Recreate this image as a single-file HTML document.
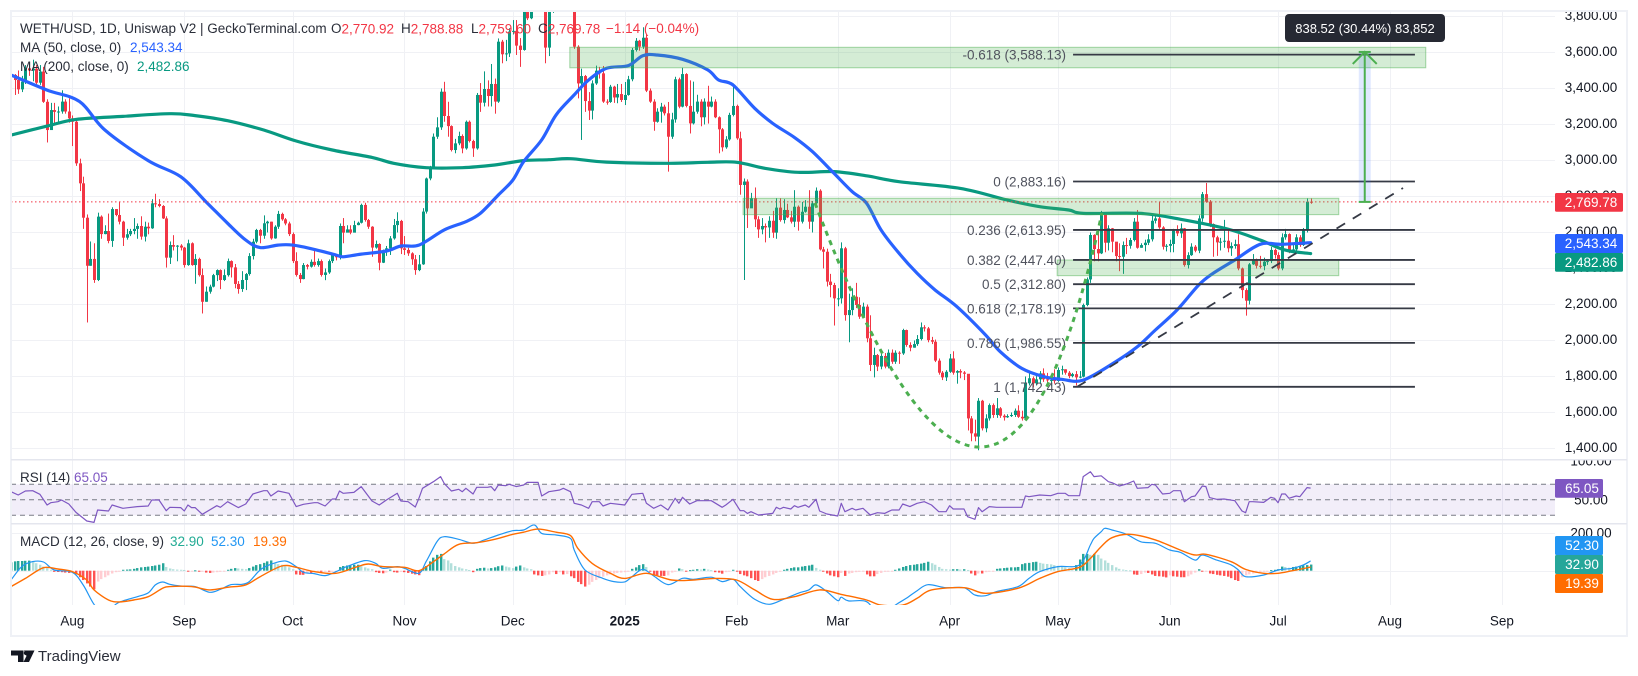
<!DOCTYPE html>
<html lang="en">
<head>
<meta charset="utf-8">
<title>WETH/USD chart</title>
<style>
html,body{margin:0;padding:0;background:#fff;width:1638px;height:676px;overflow:hidden}
svg{display:block;font-family:"Liberation Sans",sans-serif}
text{font-size:13.5px;fill:#2a2e39;dominant-baseline:central}
</style>
</head>
<body>
<svg id="chart" width="1638" height="676" viewBox="0 0 1638 676" xmlns="http://www.w3.org/2000/svg">
  <defs>
    <clipPath id="clip-main"><rect x="11" y="12" width="1544" height="447"/></clipPath>
    <clipPath id="clip-rsi"><rect x="11" y="460" width="1544" height="63"/></clipPath>
    <clipPath id="clip-macd"><rect x="11" y="524" width="1544" height="81"/></clipPath>
    <clipPath id="clip-axis-main"><rect x="1555" y="12" width="72" height="447"/></clipPath>
    <clipPath id="clip-axis-rsi"><rect x="1555" y="460" width="72" height="63"/></clipPath>
  </defs>
  <rect x="0" y="0" width="1638" height="676" fill="#ffffff"/>
  <g id="grid"></g>
  <g id="rsi-layer" clip-path="url(#clip-rsi)"></g>
  <g id="macd-layer" clip-path="url(#clip-macd)"></g>
  <g id="candles" clip-path="url(#clip-main)"></g>
  <g id="mas" clip-path="url(#clip-main)"></g>
  <g id="drawings" clip-path="url(#clip-main)"></g>
  <g id="axis-main" clip-path="url(#clip-axis-main)"></g>
  <g id="axis-rsi" clip-path="url(#clip-axis-rsi)"></g>
  <g id="axis-macd"></g>
  <g id="axis-time"></g>

  <g fill="#eff1f6">
    <rect x="10" y="10" width="1618" height="2"/>
    <rect x="10" y="10" width="2" height="627"/>
    <rect x="10" y="635" width="1618" height="2"/>
    <rect x="1626" y="10" width="2" height="627"/>
    <rect x="11" y="459" width="1616" height="1.5" fill="#e4e6ee"/>
    <rect x="11" y="523" width="1616" height="1.5" fill="#e4e6ee"/>
  </g>

  <g>
    <text x="20" y="28.5">WETH/USD, 1D, Uniswap V2 | GeckoTerminal.com</text>
    <text x="331" y="28.5">O<tspan fill="#f23645">2,770.92</tspan></text>
    <text x="401" y="28.5">H<tspan fill="#f23645">2,788.88</tspan></text>
    <text x="471" y="28.5">L<tspan fill="#f23645">2,759.60</tspan></text>
    <text x="538" y="28.5">C<tspan fill="#f23645">2,769.78</tspan></text>
    <text x="606" y="28.5" style="fill:#f23645">−1.14 (−0.04%)</text>
    <text x="20" y="47.5">MA (50, close, 0)</text>
    <text x="130" y="47.5" style="fill:#2962ff">2,543.34</text>
    <text x="20" y="66.5">MA (200, close, 0)</text>
    <text x="137" y="66.5" style="fill:#089981">2,482.86</text>
  </g>
  <g>
    <text x="20" y="477.5">RSI (14)</text>
    <text x="74" y="477.5" style="fill:#7e57c2">65.05</text>
  </g>
  <g>
    <text x="20" y="541.5">MACD (12, 26, close, 9)</text>
    <text x="170" y="541.5" style="fill:#22ab94">32.90</text>
    <text x="211" y="541.5" style="fill:#2196f3">52.30</text>
    <text x="253" y="541.5" style="fill:#ff6d00">19.39</text>
  </g>

  <g>
    <rect x="1285" y="14" width="160" height="28" rx="4" fill="#262933"/>
    <text x="1365" y="28.5" text-anchor="middle" style="fill:#ffffff;font-size:13px">838.52 (30.44%) 83,852</text>
  </g>

  <g id="axis-boxes"></g>

  <g>
    <path d="M11 650.5h12.5v11.5h-5.5v-6.5h-7z M24 650.5h10.5l-5.5 11.5h-5.5l3-6z" fill="#131722"/>
    <circle cx="26" cy="653" r="2.2" fill="#131722"/>
    <text x="38" y="656.5" style="font-size:15px;fill:#2a2e39">TradingView</text>
  </g>
</svg>

<script>
// ---- candlestick data (one entry per day, open = previous close) ----
var firstOpen = 3480;
var closes = [
3475,3447,3395,3438,3512,3500,3510,3432,3494,3326,
3169,3280,3270,3272,3327,3272,3234,3215,2984,2873,
2682,2415,2453,2336,2688,2591,2608,2553,2730,2697,
2660,2571,2590,2608,2620,2636,2577,2632,2623,2762,
2758,2747,2678,2460,2530,2521,2527,2516,2419,2540,
2419,2453,2363,2215,2271,2299,2363,2391,2336,2363,
2441,2406,2314,2286,2336,2369,2469,2549,2614,2582,
2651,2660,2567,2632,2703,2673,2650,2591,2441,2364,
2341,2419,2410,2437,2419,2441,2364,2378,2441,2475,
2462,2636,2599,2617,2599,2641,2654,2753,2669,2632,
2516,2536,2432,2493,2512,2567,2641,2664,2512,2503,
2484,2451,2391,2423,2716,2900,2965,3132,3184,3382,
3247,3191,3058,3095,3136,3067,3215,3108,3067,3364,
3321,3397,3358,3425,3327,3660,3590,3595,3716,3720,
3638,3614,3880,3790,3900,3920,3900,3850,3627,3880,
3900,3950,3980,4000,3960,3920,3632,3428,3469,3330,
3277,3428,3499,3484,3327,3325,3410,3350,3369,3336,
3364,3451,3614,3665,3632,3682,3388,3327,3215,3271,
3299,3262,3132,3228,3451,3299,3480,3303,3206,3271,
3327,3240,3327,3299,3327,3240,3173,3073,3117,3253,
3303,3123,2864,2883,2734,2790,2673,2617,2636,2628,
2665,2599,2738,2669,2725,2684,2660,2743,2660,2715,
2743,2660,2762,2832,2506,2493,2327,2308,2234,2234,
2512,2141,2169,2243,2197,2132,2188,2012,1864,1919,
1855,1914,1855,1932,1882,1932,1928,2058,1975,1960,
1980,2008,2073,2067,2002,1993,1888,1821,1795,1826,
1900,1821,1830,1822,1815,1567,1484,1466,1665,1512,
1567,1641,1586,1623,1582,1573,1580,1586,1610,1576,
1567,1762,1790,1762,1784,1817,1784,1780,1780,1775,
1836,1840,1821,1802,1813,1795,1799,2197,2339,2586,
2508,2484,2706,2543,2623,2549,2469,2465,2530,2526,
2558,2660,2515,2530,2543,2562,2665,2678,2628,2521,
2526,2536,2610,2595,2623,2419,2474,2521,2499,2678,
2813,2771,2647,2573,2545,2549,2554,2512,2525,2535,
2400,2280,2221,2423,2447,2415,2413,2438,2441,2503,
2475,2400,2573,2591,2499,2506,2573,2530,2619,2771,
2769.78];
var highs = [
3480,3480,3500,3470,3530,3540,3560,3530,3530,3520,
3340,3320,3320,3300,3390,3340,3345,3250,3220,3010,
2910,2700,2550,2540,2710,2695,2640,2705,2740,2730,
2770,2665,2620,2620,2680,2650,2690,2660,2655,2785,
2815,2785,2752,2690,2550,2585,2530,2535,2520,2560,
2545,2480,2460,2400,2300,2310,2370,2395,2395,2395,
2455,2445,2425,2330,2385,2375,2485,2565,2620,2620,
2695,2665,2660,2640,2720,2710,2680,2660,2600,2490,
2375,2430,2425,2450,2510,2455,2450,2400,2450,2480,
2480,2650,2680,2640,2640,2665,2660,2760,2765,2675,
2635,2555,2540,2505,2525,2580,2675,2712,2670,2580,
2515,2490,2475,2475,2735,2905,2970,3150,3240,3400,
3437,3326,3195,3120,3160,3145,3222,3222,3115,3375,
3430,3495,3445,3536,3455,3678,3670,3670,3735,3780,
3780,3680,3950,3950,3960,3990,3950,3950,3860,3890,
3960,3990,4020,4050,4010,3980,3950,3640,3510,3475,
3380,3445,3527,3520,3525,3340,3420,3415,3425,3425,
3436,3470,3625,3680,3670,3740,3700,3400,3340,3290,
3320,3310,3325,3265,3465,3460,3515,3485,3445,3438,
3365,3340,3345,3415,3355,3340,3245,3180,3135,3265,
3428,3310,3160,2900,2895,2820,2850,2690,2680,2650,
2690,2720,2790,2790,2785,2760,2720,2835,2750,2770,
2780,2835,2775,2850,2840,2520,2510,2370,2320,2290,
2545,2520,2260,2290,2320,2240,2210,2200,2140,1960,
1925,1935,1930,1950,1950,1945,1940,2065,2060,1990,
2000,2030,2100,2085,2075,2020,2005,1900,1830,1835,
1925,1940,1835,1840,1830,1810,1580,1560,1680,1670,
1590,1650,1650,1680,1630,1590,1590,1600,1622,1640,
1610,1800,1820,1800,1815,1830,1845,1820,1810,1840,
1850,1860,1840,1830,1820,1830,1830,2205,2350,2600,
2590,2610,2720,2710,2640,2625,2540,2540,2550,2570,
2570,2680,2725,2540,2560,2590,2695,2690,2770,2635,
2535,2560,2620,2640,2650,2625,2490,2540,2530,2695,
2825,2875,2780,2650,2582,2570,2670,2620,2545,2560,
2590,2405,2290,2430,2480,2455,2470,2460,2450,2520,
2510,2490,2595,2620,2595,2530,2590,2585,2625,2789,
2788.88];
var lows = [
3250,3364,3370,3380,3425,3470,3440,3420,3420,3320,
3100,3170,3210,3210,3260,3260,3210,3080,2970,2830,
2620,2100,2415,2320,2330,2565,2590,2540,2520,2690,
2645,2525,2560,2580,2590,2565,2560,2550,2590,2620,
2740,2740,2675,2405,2425,2500,2440,2500,2405,2415,
2415,2315,2355,2150,2215,2260,2295,2330,2285,2330,
2355,2350,2290,2260,2270,2280,2360,2450,2540,2540,
2565,2600,2560,2565,2620,2665,2640,2580,2430,2355,
2320,2340,2395,2405,2410,2410,2355,2335,2370,2430,
2445,2450,2540,2600,2590,2600,2640,2650,2660,2620,
2465,2510,2390,2430,2470,2475,2560,2600,2480,2475,
2470,2420,2365,2385,2420,2705,2890,2965,3120,3170,
3215,3132,3050,3040,3085,3040,3060,3100,3020,3060,
3270,3300,3300,3300,3260,3320,3540,3552,3575,3700,
3586,3520,3610,3780,3785,3870,3850,3840,3540,3580,
3820,3900,3930,3950,3900,3880,3620,3345,3114,3270,
3225,3228,3420,3455,3320,3310,3320,3320,3318,3325,
3308,3360,3440,3605,3610,3620,3380,3320,3165,3210,
3210,3250,2938,3120,3210,3290,3295,3295,3150,3200,
3260,3190,3200,3205,3295,3235,3040,3050,3065,3110,
3245,3115,2810,2336,2625,2740,2630,2570,2590,2545,
2570,2570,2565,2660,2650,2680,2650,2630,2610,2650,
2710,2620,2600,2750,2500,2400,2300,2240,2083,2190,
2205,2110,1990,2140,2180,2120,2130,1990,1830,1795,
1830,1840,1845,1845,1870,1870,1870,1920,1965,1940,
1960,1970,2000,2050,1990,1980,1880,1810,1780,1775,
1820,1810,1760,1790,1780,1500,1440,1440,1390,1500,
1490,1555,1570,1570,1570,1555,1570,1575,1575,1570,
1555,1560,1750,1740,1750,1760,1770,1765,1745,1760,
1770,1810,1810,1790,1795,1750,1790,1795,2190,2320,
2440,2440,2480,2490,2500,2490,2440,2385,2370,2480,
2510,2550,2510,2515,2495,2530,2550,2650,2620,2505,
2495,2490,2490,2580,2570,2410,2400,2470,2490,2485,
2660,2765,2630,2465,2470,2500,2515,2490,2470,2510,
2390,2235,2138,2200,2420,2400,2400,2390,2420,2430,
2455,2390,2390,2560,2485,2495,2500,2520,2525,2600,
2759.6];

// ---- moving averages (sampled by day index) ----
var ma50Days = [0,10,19,26,38,47,54,60,65,69,74,78,84,90,92,97,104,108,113,120,126,130,135,139,142,147,151,156,160,165,171,175,179,186,193,196,200,206,211,217,222,228,233,237,241,246,251,256,262,270,274,280,286,291,297,306,312,317,323,329,333,339,346,352,360];
var ma50Values = [3475,3391,3327,3169,2999,2910,2771,2651,2558,2516,2530,2530,2506,2475,2465,2480,2497,2525,2530,2614,2660,2706,2808,2891,2993,3114,3253,3364,3447,3512,3527,3582,3586,3562,3503,3447,3419,3290,3206,3128,3049,2928,2827,2762,2614,2484,2373,2280,2188,2030,1938,1845,1799,1784,1780,1882,1965,2058,2169,2308,2373,2447,2534,2534,2543.34];
var ma200Days = [0,10,18,31,44,51,60,70,79,89,100,106,115,125,134,142,149,155,165,182,193,201,209,218,228,237,246,263,276,285,293,297,313,324,337,346,353,360];
var ma200Values = [3141,3191,3228,3245,3260,3249,3221,3169,3108,3058,3017,2984,2960,2960,2975,2999,3004,3010,2991,2984,2990,2990,2956,2934,2938,2915,2882,2845,2780,2743,2725,2706,2706,2673,2619,2558,2502,2482.86];

// ---- RSI ----
var rsiDays = [0,2,4,6,8,10,11,13,14,16,18,21,23,24,27,28,31,35,38,39,41,43,44,47,48,49,50,51,53,57,58,60,63,65,67,70,71,72,74,77,79,81,84,85,87,89,90,91,92,95,97,100,102,104,107,108,110,112,113,114,117,119,120,122,124,125,126,128,129,132,133,134,135,137,138,140,142,143,146,147,149,152,153,155,156,158,160,161,163,164,166,170,172,175,176,178,180,182,184,185,186,188,190,192,194,197,198,200,202,203,204,205,207,211,212,213,214,216,217,218,220,221,223,224,226,229,230,231,233,234,236,238,240,242,244,246,247,249,251,253,255,257,259,260,261,264,265,267,268,269,271,273,277,280,281,282,285,288,290,292,293,296,297,299,300,302,304,305,307,309,311,312,315,316,317,319,321,322,324,325,327,328,330,331,332,334,336,339,341,342,343,344,347,349,350,351,352,353,354,356,357,359,360];
var rsiValues = [60.5,56.2,61.4,61.8,57.1,43.3,46.3,47.6,49.8,44.6,33.8,22.7,20.9,36.9,35.6,43.3,39,41.2,42,49.8,49.8,36,40.3,39.9,35.6,43.3,39.9,39.9,31.3,42.4,40.3,47.6,39.9,44.6,57.5,61.8,61.8,54.9,61.4,58.4,41.2,44.2,46.3,46.3,42,51,51,61.4,58.4,59.6,67,48.5,43.3,49.8,58.4,48.5,47.6,40.7,51.9,64.8,73.4,79.9,71.2,61.4,63.5,60.5,64.8,57.5,66.1,66.1,67,61.8,69.1,68.2,70,67,69.1,72.5,72.5,54.9,60.5,62.6,64.8,60.5,45.5,43.3,39,47.6,47.6,42,45.5,43.3,57.1,58.4,45.5,39,43.3,36.9,51.9,45.5,53.2,44.6,48.9,48.9,48.9,40.3,43.3,50.6,36,36,32.5,34.7,30.4,32.5,40.3,38.1,40.3,38.1,42.4,40.3,43.3,40.3,50.6,35.6,31.7,29.1,45.5,34.7,39,36.9,39,30.4,33.4,32.5,36.9,36.9,44.6,41.2,45.5,47.6,43.3,34.7,34.7,42.4,38.1,38.1,28.2,24.8,39.9,34.7,41.2,40.3,40.3,40.3,54.9,54,56.2,55.3,58.4,58.4,55.3,55.3,79.9,86.3,79.9,81,73.4,72.1,67.8,70.4,74.3,64.8,65.7,70,69.1,57.5,58.4,61.8,61.8,47.6,54,54.9,67.8,67,52.8,50.6,51,48.9,35.6,33.4,47.6,47.6,46.7,53.2,51.9,46.3,57.5,57.5,51.9,54.9,54,65.7,65.05];

// ---- MACD ----
var macdDays = [0,3,6,9,12,17,20,23,26,29,31,35,38,40,42,44,47,51,55,58,61,64,66,69,72,76,79,81,84,87,90,93,98,101,103,107,109,113,115,118,120,124,128,131,135,139,142,145,147,151,155,156,159,164,167,170,172,175,178,182,186,189,194,197,200,202,206,210,214,218,221,223,226,229,230,232,237,241,245,248,251,254,259,264,267,270,273,279,282,285,290,296,299,300,302,303,305,309,313,317,321,324,328,330,334,338,340,342,347,351,355,358,360];
var macdValues = [-49.7,21.7,48.5,46.7,3.9,-8.6,-76.4,-180,-237,-180,-162,-139,-119,-76,-60.4,-73,-82,-85.4,-115.7,-99.7,-74.7,-73,-58.6,3.9,34.2,52,21.7,-8.6,-15.8,-26.5,-5.4,21.7,53.9,39.6,12.8,21.7,12.8,-14,48.5,155.6,182,168,147,164,191,214,218,245,200,191,173,111,3.9,-41,-58.6,-60,-32,7.4,-28,-74.7,-40.8,-46,-35,-58.6,-46,-85,-153,-180,-153,-121,-103,-76,-112,-160,-142,-162,-166,-246,-184,-148,-107,-75,-91,-91,-130,-134,-112,-85,-41,-5,22,31,138,173,209,227,218,195,155,147,111,98,57,84,57,31,4,-32,-23,4,13,31,52.3];
var signalDays = [0,4,9,13,17,21,23,27,30,34,38,42,44,50,55,60,65,69,75,79,84,90,96,99,103,109,113,117,120,124,129,134,139,142,146,151,155,157,161,166,170,176,183,189,195,201,206,211,217,224,230,237,241,247,251,255,264,270,279,285,290,296,299,302,305,310,317,327,331,338,342,347,351,355,360];
var signalValues = [-85,-41,16,9,-5,-50,-103,-157,-167,-157,-139,-94,-85,-85,-103,-89,-76,-32,25,18,-5,-14,22,36,22,18,0,48,90,141,150,168,195,206,223,206,188,120,39,-14,-41,-14,-50,-50,-41,-50,-103,-153,-139,-103,-127,-157,-184,-184,-148,-103,-91,-121,-94,-41,-5,18,66,129,177,195,165,88,88,48,7,-14,-14,0,19.39];
var histValues = [
45,50,52,52,53,54,52,40,32,22,14,5,-6,-7,-8,-10,-12,-8,-20,-35,
-50,-68,-85,-100,-58,-45,-35,-25,-15,-8,-3,5,6,7,10,14,18,20,22,25,
28,32,40,20,12,8,6,5,4,-2,-1,2,-2,-1,-10,-12,-10,-8,-6,-4,
5,10,14,12,10,8,14,22,30,35,42,50,55,42,35,32,25,18,8,-20,
-22,-22,-10,-12,-8,-6,-6,-4,-4,-3,-2,20,25,28,30,32,32,25,18,12,
8,-8,-12,-14,-10,6,-8,-10,-6,-8,-12,-16,-20,-24,10,25,50,70,85,90,
62,55,40,25,18,12,8,4,-8,10,14,16,12,14,18,24,28,22,18,14,
22,28,18,12,8,-20,-25,-28,-25,-20,-8,-18,-8,-20,-18,-30,-40,-60,-72,-85,
-75,-60,-50,-40,-32,-25,-20,-15,-12,-10,-8,-5,10,18,30,35,20,-3,-22,-25,
-28,-28,-25,-10,-5,12,8,-2,3,5,8,6,10,6,3,-8,-10,-16,-8,-3,
5,-5,-18,-25,-30,-40,-50,-55,-45,-35,-28,-20,-12,-6,5,10,14,18,18,22,
25,28,32,15,5,-3,-15,-25,-30,-35,-12,-28,-15,-12,-8,-6,-5,-20,-30,-30,
-18,-12,-6,-3,-2,5,12,20,25,30,32,35,38,42,48,40,32,20,10,8,
6,8,8,6,8,4,-15,-25,-15,-15,-8,-4,-2,10,12,14,16,18,18,20,
35,40,42,46,48,42,38,36,34,30,26,22,18,14,10,30,60,90,90,85,
90,85,65,55,42,30,18,10,6,3,2,-20,-22,-18,-10,-12,-20,-28,-30,-32,
-36,-25,-30,-32,-35,-35,-30,-20,-10,8,-3,-2,-15,-18,-22,-25,-28,-32,-40,-50,
-55,-35,-25,-20,-15,-12,-8,-5,-3,3,5,8,22,20,16,20,22,25,28,30,32.9];

// ---- axis labels ----
var priceTicks = ["3,800.00","3,600.00","3,400.00","3,200.00","3,000.00","2,800.00","2,600.00","2,400.00","2,200.00","2,000.00","1,800.00","1,600.00","1,400.00"];
var monthLabels = ["Aug","Sep","Oct","Nov","Dec","2025","Feb","Mar","Apr","May","Jun","Jul","Aug","Sep"];
var monthDays = [17,48,78,109,139,170,201,229,260,290,321,351,382,413];
var rsiTicks = ["100.00","50.00"];
var rsiLevels = [70,50,30];
var macdTicks = ["200.00"];
var macdGridValues = [200,0];

// ---- drawing tools ----
var fibLabels = ["-0.618 (3,588.13)","0 (2,883.16)","0.236 (2,613.95)","0.382 (2,447.40)","0.5 (2,312.80)","0.618 (2,178.19)","0.786 (1,986.55)","1 (1,742.43)"];
var fibPrices = [3588.13,2883.16,2613.95,2447.40,2312.80,2178.19,1986.55,1742.43];
var fibDayRange = [294.2,388.9];
var zoneDayStart = [154.8,202.8,289.8];
var zoneDayEnd = [391.9,367.8,367.8];
var zoneTop = [3628.7,2790,2447];
var zoneBottom = [3515,2699,2360];
var trendDays = [295.3,385.6];
var trendPrices = [1742,2847];
var cupDays = [222.7,273.4,302.2];
var cupPrices = [2764,80,2708];
var targetDay = 375;
var targetPrices = [2769.78,3608.3];

// ---- scales ----
var NS = 'http://www.w3.org/2000/svg';
function xOf(d){ return 11 + d * 3.61; }
function yOf(p){ return 181.5 + (2883.16 - p) * 0.18; }
function yRsi(v){ return 484.3 + (70 - v) * 0.775; }
function yMacd(v){ return 570.7 - v * 0.1867; }
function mk(parent, tag, attrs, text){
  var el = document.createElementNS(NS, tag);
  for (var k in attrs) el.setAttribute(k, attrs[k]);
  if (text !== undefined) el.textContent = text;
  parent.appendChild(el);
  return el;
}
function smooth(days, vals, xf, yf){
  var pts = days.map(function(d,i){ return [xf(d), yf(vals[i])]; });
  var s = 'M' + pts[0][0].toFixed(1) + ' ' + pts[0][1].toFixed(1);
  for (var i = 0; i < pts.length - 1; i++){
    var p0 = pts[Math.max(i-1,0)], p1 = pts[i], p2 = pts[i+1], p3 = pts[Math.min(i+2,pts.length-1)];
    s += 'C' + (p1[0]+(p2[0]-p0[0])/6).toFixed(1) + ' ' + (p1[1]+(p2[1]-p0[1])/6).toFixed(1) + ' ' +
         (p2[0]-(p3[0]-p1[0])/6).toFixed(1) + ' ' + (p2[1]-(p3[1]-p1[1])/6).toFixed(1) + ' ' +
         p2[0].toFixed(1) + ' ' + p2[1].toFixed(1);
  }
  return s;
}

// ---- grid ----
var grid = document.getElementById('grid');
monthDays.forEach(function(d){
  var x = Math.round(xOf(d)) + 0.5;
  var l = mk(grid, 'line', {x1:x, x2:x, y1:12, y2:605, stroke:'#f0f1f5', 'stroke-width':1});
  
  
});
priceTicks.forEach(function(t){
  var y = Math.round(yOf(parseFloat(t.replace(/,/g,'')))) + 0.5;
  var l = mk(grid, 'line', {x1:11, x2:1555, y1:y, y2:y, stroke:'#f0f1f5', 'stroke-width':1});
  
  
});
macdGridValues.forEach(function(v){
  var y = Math.round(yMacd(v)) + 0.5;
  var l = mk(grid, 'line', {x1:11, x2:1555, y1:y, y2:y, stroke:'#f0f1f5', 'stroke-width':1});
  
  
});

// ---- candles ----
var candleLayer = document.getElementById('candles');
closes.forEach(function(c, i){
  var o = i === 0 ? firstOpen : closes[i-1];
  var up = c >= o;
  var color = up ? '#089981' : '#f23645';
  var x = Math.round(xOf(i));
  var wick = mk(candleLayer, 'rect', {x:x, y:yOf(highs[i]), width:1, height:Math.max(yOf(lows[i])-yOf(highs[i]),1), fill:color});
  
  
  var top = yOf(Math.max(o,c)), h = Math.max(yOf(Math.min(o,c))-top, 1);
  var body = mk(candleLayer, 'rect', {x:x-1, y:top, width:3, height:h, fill:color});
  
  
});

// ---- moving averages ----
var maLayer = document.getElementById('mas');
var ma200Line = mk(maLayer, 'path', {d:smooth(ma200Days, ma200Values, xOf, yOf), fill:'none', stroke:'#089981', 'stroke-width':3.2, 'stroke-linejoin':'round', 'stroke-linecap':'round'});


var ma50Line = mk(maLayer, 'path', {d:smooth(ma50Days, ma50Values, xOf, yOf), fill:'none', stroke:'#2962ff', 'stroke-width':3.2, 'stroke-linejoin':'round', 'stroke-linecap':'round'});



// ---- last price line ----
var drawings = document.getElementById('drawings');
var lastClose = closes[closes.length-1];
var lastLine = mk(drawings, 'line', {x1:11, x2:1555, y1:yOf(lastClose), y2:yOf(lastClose), stroke:'#f23645', 'stroke-width':1, 'stroke-dasharray':'1.5 2.5'});



// ---- zones ----
zoneTop.forEach(function(t, i){
  var z = mk(drawings, 'rect', {x:xOf(zoneDayStart[i]), y:yOf(t), width:xOf(zoneDayEnd[i])-xOf(zoneDayStart[i]), height:yOf(zoneBottom[i])-yOf(t), fill:'rgba(76,175,80,0.24)', stroke:'rgba(76,175,80,0.5)', 'stroke-width':1});
  
  
});

// ---- fib levels ----
fibPrices.forEach(function(p, i){
  var y = yOf(p);
  var l = mk(drawings, 'line', {x1:xOf(fibDayRange[0]), x2:xOf(fibDayRange[1]), y1:y, y2:y, stroke:'#363a45', 'stroke-width':1.8});
  
  
  var t = mk(drawings, 'text', {x:xOf(fibDayRange[0])-7, y:y+0.5, 'text-anchor':'end', style:'fill:#50535e'}, fibLabels[i]);
  
  
});

// ---- trend line ----
var trend = mk(drawings, 'line', {x1:xOf(trendDays[0]), y1:yOf(trendPrices[0]), x2:xOf(trendDays[1]), y2:yOf(trendPrices[1]), stroke:'#363a45', 'stroke-width':1.8, 'stroke-dasharray':'10 9'});



// ---- cup arc ----
var cup = mk(drawings, 'path', {d:'M'+xOf(cupDays[0])+' '+yOf(cupPrices[0])+'Q'+xOf(cupDays[1])+' '+yOf(cupPrices[1])+' '+xOf(cupDays[2])+' '+yOf(cupPrices[2]), fill:'none', stroke:'#4caf50', 'stroke-width':3, 'stroke-dasharray':'5 5'});



// ---- target arrow ----
var ax = xOf(targetDay), ay0 = yOf(targetPrices[0]), ay1 = yOf(targetPrices[1]);
var band = mk(drawings, 'rect', {x:ax-6, y:ay1, width:12, height:ay0-ay1, fill:'rgba(41,98,255,0.14)'});


var shaft = mk(drawings, 'line', {x1:ax, x2:ax, y1:ay0, y2:ay1, stroke:'#4caf50', 'stroke-width':2});


var head = mk(drawings, 'path', {d:'M'+(ax-12)+' '+(ay1+13)+'L'+ax+' '+(ay1+1)+'L'+(ax+12)+' '+(ay1+13), fill:'none', stroke:'#4caf50', 'stroke-width':2});


var capTop = mk(drawings, 'line', {x1:ax-6, x2:ax+6, y1:ay1+1, y2:ay1+1, stroke:'#4caf50', 'stroke-width':2});


var capBottom = mk(drawings, 'line', {x1:ax-6, x2:ax+6, y1:ay0, y2:ay0, stroke:'#4caf50', 'stroke-width':2});



// ---- RSI pane ----
var rsiLayer = document.getElementById('rsi-layer');
var rsiBand = mk(rsiLayer, 'rect', {x:11, y:yRsi(70), width:1544, height:yRsi(30)-yRsi(70), fill:'rgba(126,87,194,0.1)'});


rsiLevels.forEach(function(v){
  var l = mk(rsiLayer, 'line', {x1:11, x2:1555, y1:yRsi(v), y2:yRsi(v), stroke:'#787b86', 'stroke-width':1, 'stroke-dasharray':'5 4'});
  
  
});
var rsiPts = rsiDays.map(function(d,i){ return xOf(d).toFixed(1)+','+yRsi(rsiValues[i]).toFixed(1); }).join(' ');
var rsiLine = mk(rsiLayer, 'polyline', {points:rsiPts, fill:'none', stroke:'#7e57c2', 'stroke-width':1.2, 'stroke-linejoin':'round'});



// ---- MACD pane ----
var macdLayer = document.getElementById('macd-layer');
histValues.forEach(function(v, i){
  var prev = i ? histValues[i-1] : v;
  var color = v >= 0 ? (v >= prev ? '#26a69a' : '#b2dfdb') : (v <= prev ? '#ff5252' : '#ffcdd2');
  var y0 = yMacd(0), y1 = yMacd(v);
  var b = mk(macdLayer, 'rect', {x:Math.round(xOf(i))-1, y:Math.min(y0,y1), width:2.4, height:Math.max(Math.abs(y1-y0),1), fill:color});
  
  
});
var macdLine = mk(macdLayer, 'path', {d:smooth(macdDays, macdValues, xOf, yMacd), fill:'none', stroke:'#2196f3', 'stroke-width':1.2});


var signalLine = mk(macdLayer, 'path', {d:smooth(signalDays, signalValues, xOf, yMacd), fill:'none', stroke:'#ff6d00', 'stroke-width':1.4});



// ---- axes ----
var axisMain = document.getElementById('axis-main');
priceTicks.forEach(function(t){
  var el = mk(axisMain, 'text', {x:1591, y:yOf(parseFloat(t.replace(/,/g,'')))-1, 'text-anchor':'middle', style:'fill:#131722'}, t);
  
  
});
var axisRsi = document.getElementById('axis-rsi');
rsiTicks.forEach(function(t){
  var el = mk(axisRsi, 'text', {x:1591, y:yRsi(parseFloat(t)), 'text-anchor':'middle', style:'fill:#131722'}, t);
  
  
});
var axisMacd = document.getElementById('axis-macd');
macdTicks.forEach(function(t){
  var el = mk(axisMacd, 'text', {x:1591, y:yMacd(parseFloat(t))-0.5, 'text-anchor':'middle', style:'fill:#131722'}, t);
  
  
});
var axisTime = document.getElementById('axis-time');
monthLabels.forEach(function(t, i){
  var el = mk(axisTime, 'text', {x:xOf(monthDays[i]), y:621, 'text-anchor':'middle', style:'fill:#131722'+(t === '2025' ? ';font-weight:bold' : '')}, t);
  
  
});

// ---- axis value boxes ----
var boxes = document.getElementById('axis-boxes');
var boxTexts = ["2,769.78","2,543.34","2,482.86","65.05","52.30","32.90","19.39"];
var boxTops = [193,234,253,479,536,555,574];
var boxHeights = [18.7,19,18.7,18.7,19,19,19];
var boxWidths = [68,68,68,48,48,48,48];
var boxColors = ['#f23645','#2962ff','#089981','#7e57c2','#2196f3','#26a69a','#ff6d00'];
boxTexts.forEach(function(t, i){
  var r = mk(boxes, 'rect', {x:1555, y:boxTops[i], width:boxWidths[i], height:boxHeights[i], fill:boxColors[i], rx:1.5});
  
  
  var el = mk(boxes, 'text', {x:1555+boxWidths[i]/2+(boxWidths[i]>60?2:3), y:boxTops[i]+boxHeights[i]/2, 'text-anchor':'middle', style:'fill:#ffffff'}, t);
  
  
});
</script>
</body>
</html>
